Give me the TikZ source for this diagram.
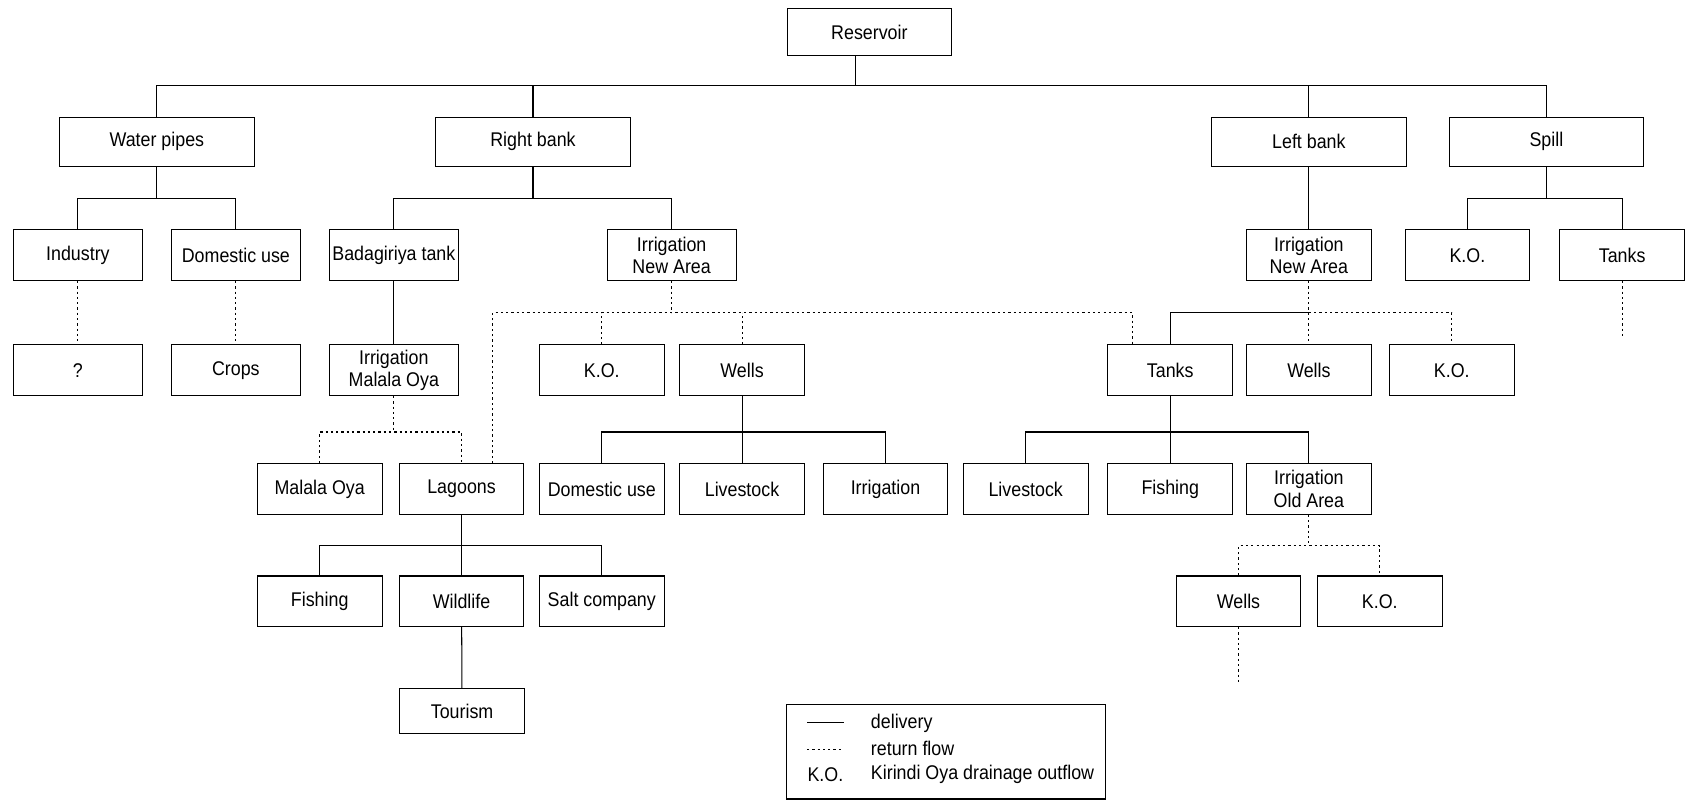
\documentclass[tikz,border=0pt]{standalone}
\usepackage{fontspec}
\setmainfont{Liberation Sans}[FakeStretch=0.9]
\begin{document}
\begin{tikzpicture}[x=0.02cm, y=-0.02cm,
    line width=0.55pt,
    every node/.style={font=\fontsize{10.5}{11.8}\selectfont},
    box/.style={draw, align=center, inner sep=1pt, minimum width=2.32cm, minimum height=0.94cm},
    wbox/.style={box, minimum width=2.4cm},
    topbox/.style={box, minimum width=3.62cm, minimum height=0.9cm},
    ret/.style={dash pattern=on 1.2pt off 1.6pt}]
  \useasboundingbox (0,0) rectangle (1568,744);
  \node[box, minimum width=3.04cm, minimum height=0.88cm] (res) at (809,30) {Reservoir};
  \node[topbox] (wp) at (146,132) {Water pipes};
  \node[topbox] (rb) at (496,132) {Right bank};
  \node[topbox] (lb) at (1218,132) {Left bank};
  \node[topbox] (sp) at (1439,132) {Spill};
  \node[wbox] (ind) at (72.5,237.5) {Industry};
  \node[wbox] (dom) at (219.5,237.5) {Domestic use};
  \node[wbox] (bad) at (366.5,237.5) {Badagiriya tank};
  \node[wbox] (rnia) at (625,237.5) {Irrigation\\New Area};
  \node[box] (lnia) at (1218,237.5) {Irrigation\\New Area};
  \node[box] (sko) at (1365.5,237.5) {K.O.};
  \node[box] (stk) at (1509.5,237.5) {Tanks};
  \node[wbox] (q) at (72.5,344.5) {?};
  \node[wbox] (crops) at (219.5,344.5) {Crops};
  \node[wbox] (ima) at (366.5,344.5) {Irrigation\\Malala Oya};
  \node[box] (rko) at (560,344.5) {K.O.};
  \node[box] (rwl) at (690.5,344.5) {Wells};
  \node[box] (ltk) at (1089,344.5) {Tanks};
  \node[box] (lwl) at (1218,344.5) {Wells};
  \node[box] (lko) at (1351,344.5) {K.O.};
  \node[box] (mo) at (297.5,455) {Malala Oya};
  \node[box] (lag) at (429.5,455) {Lagoons};
  \node[box] (rdom) at (560,455) {Domestic use};
  \node[box] (liv1) at (690.5,455) {Livestock};
  \node[box] (irr) at (824,455) {Irrigation};
  \node[box] (liv2) at (954.5,455) {Livestock};
  \node[box] (fish1) at (1089,455) {Fishing};
  \node[box] (ioa) at (1218,455) {Irrigation\\Old Area};
  \node[box] (fish2) at (297.5,559.5) {Fishing};
  \node[box] (wild) at (429.5,559.5) {Wildlife};
  \node[box] (salt) at (560,559.5) {Salt company};
  \node[box] (owl) at (1152.5,559.5) {Wells};
  \node[box] (oko) at (1284,559.5) {K.O.};
  \node[box, minimum height=0.84cm] (tour) at (430,662) {Tourism};
  \coordinate (y1) at (796,80);
  \coordinate (y2) at (0,185);
  \coordinate (y3) at (0,291);
  \coordinate (y4) at (0,402);
  \coordinate (y5) at (0,508);
  \coordinate (stkend) at (1509.5,315);
  \coordinate (owlend) at (1152.5,636);
  \begin{scope}
    \draw (res.south -| y1) -- (y1);
    \draw (wp.north) |- (sp.north |- y1) -- (sp.north);
    \draw (rb.north) -- (rb.north |- y1);
    \draw (lb.north) -- (lb.north |- y1);
    \draw (wp.south) -- (wp.south |- y2);
    \draw (ind.north) |- (dom.north |- y2) -- (dom.north);
    \draw (rb.south) -- (rb.south |- y2);
    \draw (bad.north) |- (rnia.north |- y2) -- (rnia.north);
    \draw (lb) -- (lnia);
    \draw (sp.south) -- (sp.south |- y2);
    \draw (sko.north) |- (stk.north |- y2) -- (stk.north);
    \draw (bad) -- (ima);
    \draw (ltk.north) |- (lwl.north |- y3);
    \draw (rwl) -- (liv1);
    \draw (rdom.north) |- (irr.north |- y4) -- (irr.north);
    \draw (ltk) -- (fish1);
    \draw (liv2.north) |- (ioa.north |- y4) -- (ioa.north);
    \draw (lag) -- (wild);
    \draw (fish2.north) |- (salt.north |- y5) -- (salt.north);
    \draw (wild) -- (tour);
  \end{scope}
  \begin{scope}[ret]
    \draw (ind) -- (q);
    \draw (dom) -- (crops);
    \draw (stk) -- (stkend);
    \draw (rnia.south) -- (rnia.south |- y3);
    \draw ([xshift=0.58cm]lag.north) |- ([xshift=-0.7cm]ltk.north |- y3) -- ([xshift=-0.7cm]ltk.north);
    \draw (rko.north) -- (rko.north |- y3);
    \draw (rwl.north) -- (rwl.north |- y3);
    \draw (lnia) -- (lwl);
    \draw (lwl.north |- y3) -| (lko.north);
    \draw (ima.south) -- (ima.south |- y4);
    \draw (mo.north) |- (lag.north |- y4) -- (lag.north);
    \draw (ioa.south) -- (ioa.south |- y5);
    \draw (owl.north) |- (oko.north |- y5) -- (oko.north);
    \draw (owl) -- (owlend);
  \end{scope}
  \draw (732,656) rectangle (1029,743.5);
  \coordinate (la) at (751,672);
  \coordinate (lb2) at (785,672);
  \coordinate (lc) at (751,697);
  \coordinate (ld) at (785,697);
  \draw (la) -- (lb2);
  \draw[ret] (lc) -- (ld);
  \node[anchor=west, inner sep=0pt] (ldel) at (810,673) {delivery};
  \node[anchor=west, inner sep=0pt] (lret) at (810,696) {return flow};
  \node[anchor=west, inner sep=0pt] (lko2) at (751,721) {K.O.};
  \node[anchor=west, inner sep=0pt] (lkir) at (810,721) {Kirindi Oya drainage outflow};
\end{tikzpicture}
\end{document}
